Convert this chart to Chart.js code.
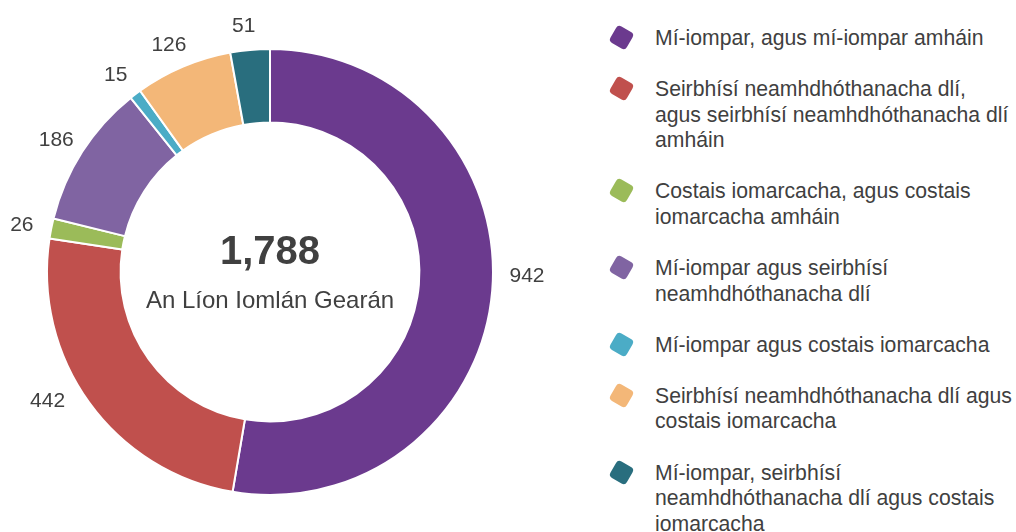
<!DOCTYPE html>
<html>
<head>
<meta charset="utf-8">
<script src="https://cdn.jsdelivr.net/npm/chart.js@4/dist/chart.umd.min.js"></script>
<style>
  html, body { margin: 0; padding: 0; background: #ffffff; }
  body { width: 1016px; height: 532px; position: relative; overflow: hidden; font-family: "Liberation Sans", Arial, sans-serif; }
  #wrap { position: absolute; left: 0; top: 0; width: 600px; height: 532px; }
  #legend { position: absolute; left: 608px; top: 25px; width: 410px; }
  .item { position: relative; padding-left: 47px; margin-bottom: 25.7px; color: #404040; font-size: 21.2px; line-height: 25.5px; }
  .mark { position: absolute; left: 4px; top: 3px; width: 19px; height: 19px; border-radius: 4px; transform: rotate(30deg); }
  .txt { display: block; width: 358px; white-space: normal; }
</style>
</head>
<body>
<div id="wrap"><canvas id="c"></canvas></div>
<div id="legend"></div>
<script>
const categories = [
  "Mí-iompar, agus mí-iompar amháin",
  "Seirbhísí neamhdhóthanacha dlí,\nagus seirbhísí neamhdhóthanacha dlí amháin",
  "Costais iomarcacha, agus costais iomarcacha amháin",
  "Mí-iompar agus seirbhísí neamhdhóthanacha dlí",
  "Mí-iompar agus costais iomarcacha",
  "Seirbhísí neamhdhóthanacha dlí agus costais iomarcacha",
  "Mí-iompar, seirbhísí neamhdhóthanacha dlí agus costais iomarcacha"
];
const values = [942, 442, 26, 186, 15, 126, 51];
const colors = ["#6b3a8e", "#c0504d", "#9bbb59", "#8064a2", "#4bacc6", "#f3b778", "#296e7e"];
const totalLabel = "An Líon Iomlán Gearán";

const total = values.reduce((a, b) => a + b, 0);

const outsideLabels = {
  id: 'outsideLabels',
  afterDatasetsDraw(chart) {
    const ctx = chart.ctx;
    const meta = chart.getDatasetMeta(0);
    ctx.save();
    ctx.font = '21px "Liberation Sans", Arial, sans-serif';
    ctx.fillStyle = '#404040';
    ctx.textAlign = 'center';
    ctx.textBaseline = 'middle';
    meta.data.forEach((arc, i) => {
      const p = arc.getProps(['x', 'y', 'startAngle', 'endAngle', 'outerRadius'], true);
      const mid = (p.startAngle + p.endAngle) / 2;
      const R = p.outerRadius + 26;
      let lx = p.x + Math.cos(mid) * R;
      let ly = p.y + Math.sin(mid) * R;
      if (Math.sin(mid) > 0) {
        ly -= 17;
        const Rt = p.outerRadius + 34;
        const dy = ly - p.y;
        const dx = Math.sqrt(Math.max(0, Rt * Rt - dy * dy));
        lx = p.x + (Math.cos(mid) >= 0 ? dx : -dx);
      } else {
        ly += 2;
        lx -= 4;
      }
      ctx.fillText(String(chart.data.datasets[0].data[i]), lx, ly);
    });
    const a = meta.data[0];
    ctx.font = 'bold 40px "Liberation Sans", Arial, sans-serif';
    ctx.fillText(total.toLocaleString('en-US'), a.x, a.y - 19);
    ctx.font = '24px "Liberation Sans", Arial, sans-serif';
    ctx.fillText(totalLabel, a.x, a.y + 29);
    ctx.restore();
  }
};

const chart = new Chart(document.getElementById('c'), {
  type: 'doughnut',
  data: {
    labels: categories,
    datasets: [{
      data: values,
      backgroundColor: colors,
      borderColor: '#ffffff',
      borderWidth: 2
    }]
  },
  options: {
    responsive: true,
    maintainAspectRatio: false,
    animation: false,
    cutout: '67%',
    layout: { padding: { top: 48, bottom: 36, left: 0, right: 60 } },
    plugins: { legend: { display: false }, tooltip: { enabled: false } }
  },
  plugins: [outsideLabels]
});

const legend = document.getElementById('legend');
chart.data.labels.forEach((lab, i) => {
  const item = document.createElement('div');
  item.className = 'item';
  const m = document.createElement('span');
  m.className = 'mark';
  m.style.background = chart.data.datasets[0].backgroundColor[i];
  const t = document.createElement('span');
  t.className = 'txt';
  lab.split('\n').forEach((line, k) => {
    if (k > 0) t.appendChild(document.createElement('br'));
    t.appendChild(document.createTextNode(line));
  });
  item.appendChild(m);
  item.appendChild(t);
  legend.appendChild(item);
});
</script>
</body>
</html>
